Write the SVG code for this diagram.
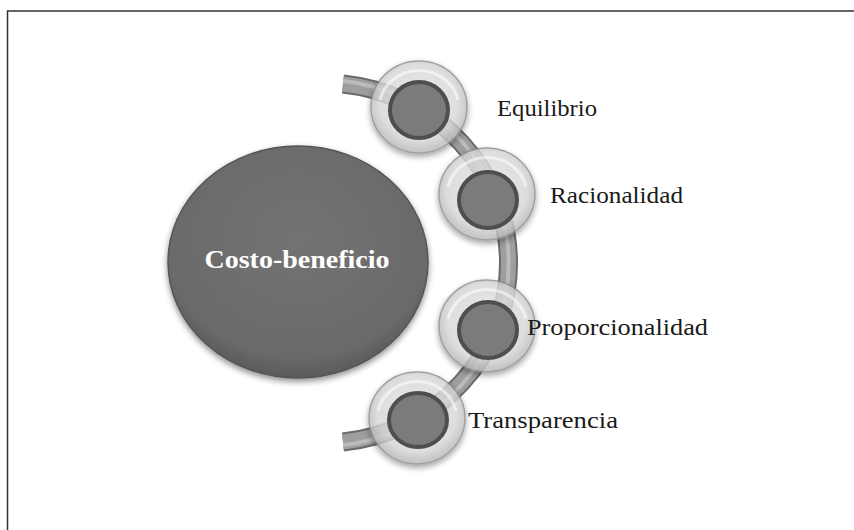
<svg xmlns="http://www.w3.org/2000/svg" width="854" height="530" viewBox="0 0 854 530">
<style>
.lbl{font-family:"Liberation Serif","Times New Roman",serif;font-size:23px;fill:#1a1a1a}
.main{font-family:"Liberation Serif","Times New Roman",serif;font-size:26px;font-weight:bold;fill:#ffffff}
.ring{fill:url(#ringGrad);stroke:#8c8c8c;stroke-width:1.5;opacity:0.82}
.hl{fill:none;stroke:#ffffff;stroke-width:3;opacity:0.55}
.core{fill:#7b7b7b;stroke:#4e4e4e;stroke-width:4}
</style>
<defs>
<radialGradient id="ringGrad" cx="0.5" cy="0.45" r="0.55">
<stop offset="0" stop-color="#e8e8e8"/>
<stop offset="0.75" stop-color="#d6d6d6"/>
<stop offset="1" stop-color="#b4b4b4"/>
</radialGradient>
<radialGradient id="bigGrad" cx="0.5" cy="0.4" r="0.6">
<stop offset="0" stop-color="#737373"/>
<stop offset="0.85" stop-color="#6a6a6a"/>
<stop offset="1" stop-color="#5a5a5a"/>
</radialGradient>
<filter id="shadow" x="-20%" y="-20%" width="140%" height="150%">
<feGaussianBlur in="SourceAlpha" stdDeviation="3"/>
<feOffset dx="0" dy="3" result="b"/>
<feComponentTransfer><feFuncA type="linear" slope="0.45"/></feComponentTransfer>
<feMerge><feMergeNode/><feMergeNode in="SourceGraphic"/></feMerge>
</filter>
</defs>
<rect x="0" y="0" width="854" height="530" fill="#ffffff"/>
<path d="M 854 11 H 7.5 V 530" fill="none" stroke="#333333" stroke-width="1.5"/>

<g id="costo-beneficio">
<ellipse cx="298" cy="262" rx="130" ry="116" fill="url(#bigGrad)" stroke="#555555" stroke-width="1.5" filter="url(#shadow)"/>
<text class="main" x="297" y="268" text-anchor="middle" textLength="185" lengthAdjust="spacingAndGlyphs">Costo-beneficio</text>
</g>

<g id="connectors">
<path d="M 343 84 A 185 180 0 0 1 343 442" fill="none" stroke="#6a6a6a" stroke-width="19"/>
<path d="M 343 84 A 185 180 0 0 1 343 442" fill="none" stroke="#9e9e9e" stroke-width="15"/>
<path d="M 343 81 A 185 183 0 0 1 343 445" fill="none" stroke="#c2c2c2" stroke-width="4" opacity="0.8"/>
</g>

<g id="equilibrio">
<ellipse class="ring" cx="419" cy="107" rx="48" ry="46" filter="url(#shadow)"/>
<path class="hl" d="M 380 100 A 40 38 0 0 1 458 100"/>
<ellipse class="core" cx="419" cy="110" rx="29" ry="28"/>
<text class="lbl" x="497" y="116" textLength="100" lengthAdjust="spacingAndGlyphs">Equilibrio</text>
</g>

<g id="racionalidad">
<ellipse class="ring" cx="487" cy="194" rx="48" ry="46" filter="url(#shadow)"/>
<path class="hl" d="M 448 187 A 40 38 0 0 1 526 187"/>
<ellipse class="core" cx="488" cy="200" rx="29" ry="28"/>
<text class="lbl" x="550" y="203" textLength="133" lengthAdjust="spacingAndGlyphs">Racionalidad</text>
</g>

<g id="proporcionalidad">
<ellipse class="ring" cx="487" cy="326" rx="48" ry="46" filter="url(#shadow)"/>
<path class="hl" d="M 448 319 A 40 38 0 0 1 526 319"/>
<ellipse class="core" cx="488" cy="330" rx="29" ry="28"/>
<text class="lbl" x="527" y="335" textLength="181" lengthAdjust="spacingAndGlyphs">Proporcionalidad</text>
</g>

<g id="transparencia">
<ellipse class="ring" cx="417" cy="418" rx="48" ry="46" filter="url(#shadow)"/>
<path class="hl" d="M 378 411 A 40 38 0 0 1 456 411"/>
<ellipse class="core" cx="418" cy="420" rx="29" ry="27"/>
<text class="lbl" x="468" y="428" textLength="150" lengthAdjust="spacingAndGlyphs">Transparencia</text>
</g>
</svg>
